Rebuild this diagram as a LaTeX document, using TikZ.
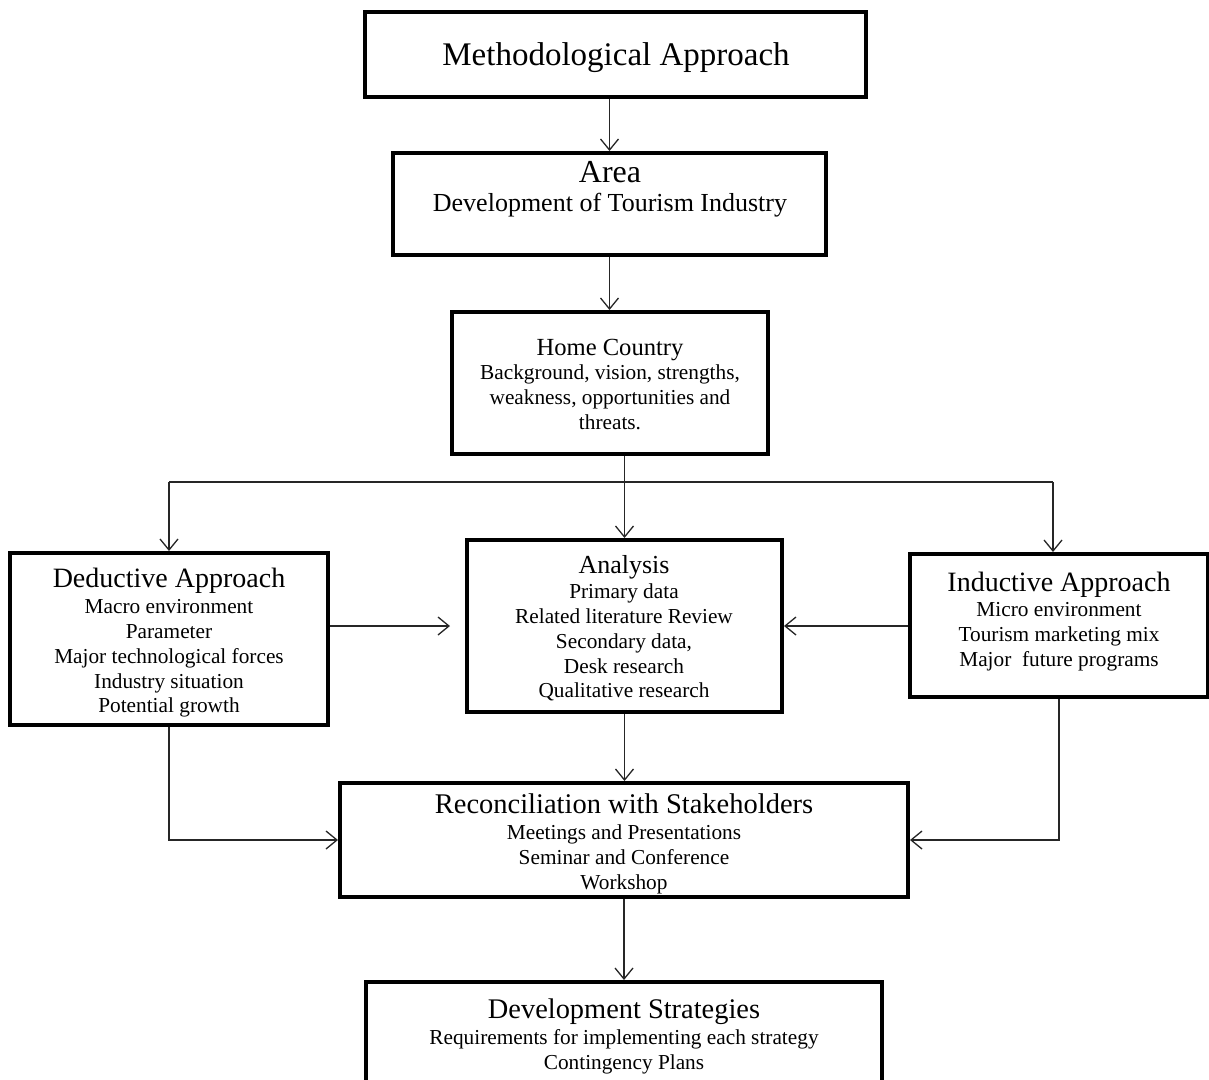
\documentclass[tikz,border=0pt]{standalone}
\usepackage{fontspec}
\setmainfont{Liberation Serif}
\usetikzlibrary{arrows.meta,calc}
\newcommand\firstline{\rule{0pt}{25pt}}
\begin{document}
\begin{tikzpicture}[x=1pt,y=-1pt,
  box/.style={draw=black, line width=4pt, inner sep=0pt},
  txt/.style={anchor=north, align=center, inner sep=0pt,
    font=\fontsize{21.3}{24.7}\selectfont},
  conn/.style={draw=black!85, line width=1.3pt},
  arr/.style={conn, -{Straight Barb[length=11pt,width=18pt]}}]
\useasboundingbox (0,0) rectangle (1209,1079);

% boxes
\node[box, minimum width=501pt, minimum height=85pt]  (meth) at (615.5,54.5) {};
\node[box, minimum width=433pt, minimum height=102pt] (area) at (609.5,204) {};
\node[box, minimum width=316pt, minimum height=142pt] (home) at (610,383) {};
\node[box, minimum width=318pt, minimum height=172pt] (ded)  at (169,639) {};
\node[box, minimum width=315pt, minimum height=172pt] (ana)  at (624.5,626) {};
\node[box, minimum width=298pt, minimum height=143pt] (ind)  at (1059,625.5) {};
\node[box, minimum width=568pt, minimum height=114pt] (rec)  at (624,840) {};
\node[box, minimum width=516pt, minimum height=128pt] (dev)  at (624,1046) {};

% box texts
\node[txt] (methT) at (616,40) {\firstline{\fontsize{33}{33}\selectfont Methodological Approach}};
\node[txt] (areaT) at (610,157) {\firstline{\fontsize{32}{32}\selectfont Area}\\[5pt]
  {\fontsize{26}{26}\selectfont Development of Tourism Industry}};
\node[txt] (homeT) at (610,330) {\firstline{\fontsize{24.6}{24.6}\selectfont Home Country}\\
  Background, vision, strengths,\\ weakness, opportunities and\\ threats.};
\node[txt] (dedT) at (169,562) {\firstline{\fontsize{28}{28}\selectfont Deductive Approach}\\[2pt]
  Macro environment\\ Parameter\\ Major technological forces\\ Industry situation\\ Potential growth};
\node[txt] (anaT) at (624,548) {\firstline{\fontsize{26}{26}\selectfont Analysis}\\[1pt]
  Primary data\\ Related literature Review\\ Secondary data,\\ Desk research\\ Qualitative research};
\node[txt] (indT) at (1059,566) {\firstline{\fontsize{28}{28}\selectfont Inductive Approach}\\[1pt]
  Micro environment\\ Tourism marketing mix\\ Major~ future programs};
\node[txt] (recT) at (624,788) {\firstline{\fontsize{28.5}{28.5}\selectfont Reconciliation with Stakeholders}\\[2pt]
  Meetings and Presentations\\ Seminar and Conference\\ Workshop};
\node[txt] (devT) at (624,993) {\firstline{\fontsize{28.4}{28.4}\selectfont Development Strategies}\\[2pt]
  Requirements for implementing each strategy\\ Contingency Plans};

% connectors
\draw[arr] (meth.south -| area.north) -- (area.north);
\draw[arr] (area.south) -- (area.south |- home.north);
\draw[arr] (home.south -| ana.north) -- (ana.north);

\coordinate (bus) at (624.5,482);
\coordinate (indIn) at ([xshift=-6pt]ind.north);
\draw[conn] (ded.north |- bus) -- (indIn |- bus);
\draw[arr] (ded.north |- bus) -- (ded.north);
\draw[arr] (indIn |- bus) -- (indIn);

\draw[arr] (ded.east |- ana.west) -- ([xshift=-15pt]ana.west);
\draw[arr] (ind.west |- ana.east) -- (ana.east);

\draw[arr] (ana.south) -- (ana.south |- rec.north);
\draw[arr] (ded.south) |- (rec.west);
\draw[arr] (ind.south) |- (rec.east);
\draw[arr] (rec.south) -- (rec.south |- dev.north);
\end{tikzpicture}
\end{document}
